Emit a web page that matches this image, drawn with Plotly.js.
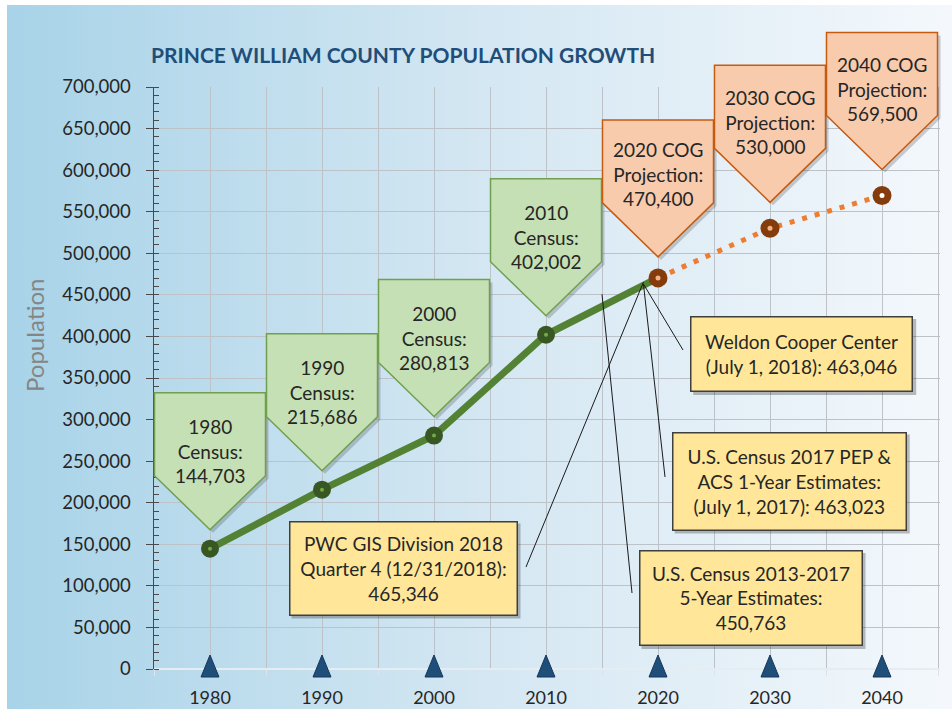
<!DOCTYPE html>
<html>
<head>
<meta charset="utf-8">
<script src="https://cdn.plot.ly/plotly-3.0.1.min.js"></script>
<style>
  html, body { margin: 0; padding: 0; background: #ffffff; }
  #wrap { position: relative; width: 952px; height: 710px; }
  #bg { position: absolute; left: 7px; top: 5px; width: 945px; height: 704px;
        background: linear-gradient(to right, #a8d3e8 0%, #d2e6f2 48%, #f4f8fc 100%); }
  #chart { position: absolute; left: 0; top: 0; width: 952px; height: 710px; }
</style>
</head>
<body>
<div id="wrap"><div id="bg"></div><div id="chart"></div></div>
<script>
// ---- data ----
const censusYears = [1980, 1990, 2000, 2010];
const censusPop = [144703, 215686, 280813, 402002];
const projYears = [2020, 2030, 2040];
const projPop = [470400, 530000, 569500];
const decadeTicks = [1980, 1990, 2000, 2010, 2020, 2030, 2040];
const estSources = ['PWC GIS Division 2018<br>Quarter 4 (12/31/2018):',
                    'Weldon Cooper Center<br>(July 1, 2018):',
                    'U.S. Census 2017 PEP &<br>ACS 1-Year Estimates:<br>(July 1, 2017):',
                    'U.S. Census 2013-2017<br>5-Year Estimates:'];
const estValues = [465346, 463046, 463023, 450763];
const estYears = [2018.7, 2018.7, 2018.7, 2015];

// ---- layout geometry ----
const L = 154, R = 12, T = 87, B = 41, PW = 952 - L - R, PH = 710 - T - B;
const X0 = 1975, PXPERYEAR = 11.2;
const xRange = [X0, X0 + PW / PXPERYEAR];
const yRange = [0, 700000];
const px2x = p => X0 + (p - L) / PXPERYEAR;
const py2y = p => (T + PH - p) / PH * yRange[1];
const pxX = p => (p - L) / PW;
const pxY = p => (T + PH - p) / PH;
const dX = v => (v - xRange[0]) / (xRange[1] - xRange[0]);
const dY = v => (v - yRange[0]) / (yRange[1] - yRange[0]);
const fmt = v => v.toLocaleString('en-US');
const FONT = 'Lato, "Open Sans", sans-serif';
const TXT = '#262626';

const shapes = [];
const annotations = [];

// callouts
function callout(x, y, tip, fill, line) {
  const hw = 55.5, sh = tip + 54, top = tip + 137;
  const p = (dx, dy) => `M${dx},${tip+dy} L${hw+dx},${sh+dy} L${hw+dx},${top+dy} L${-hw+dx},${top+dy} L${-hw+dx},${sh+dy} Z`;
  const base = {type: 'path', xref: 'paper', yref: 'paper', xsizemode: 'pixel', ysizemode: 'pixel',
                xanchor: dX(x), yanchor: dY(y), layer: 'above'};
  shapes.push(Object.assign({}, base, {path: p(3, -3), fillcolor: 'rgba(40,40,40,0.22)', line: {width: 0}}));
  shapes.push(Object.assign({}, base, {path: p(0, 0), fillcolor: fill, line: {color: line, width: 1.5}}));
}
censusYears.forEach((yr, i) => {
  callout(yr, censusPop[i], 19, '#c5e0b4', '#6f9f4f');
  annotations.push({x: yr, y: censusPop[i], xref: 'x', yref: 'y', showarrow: false, yshift: 98,
    text: `${yr}<br>Census:<br>${fmt(censusPop[i])}`, font: {family: FONT, size: 19, color: TXT}});
});
const projTip = [21, 26, 26], projText = [104, 106, 107];
projYears.forEach((yr, i) => {
  callout(yr, projPop[i], projTip[i], '#f8cbad', '#c55a11');
  annotations.push({x: yr, y: projPop[i], xref: 'x', yref: 'y', showarrow: false, yshift: projText[i],
    text: `${yr} COG<br>Projection:<br>${fmt(projPop[i])}`, font: {family: FONT, size: 19, color: TXT}});
});

// triangles on the x axis
decadeTicks.forEach(yr => {
  shapes.push({type: 'path', xref: 'paper', yref: 'paper', xsizemode: 'pixel', ysizemode: 'pixel',
    xanchor: dX(yr), yanchor: 0, layer: 'above', path: 'M-9,-8 L9,-8 L0,14 Z',
    fillcolor: '#1f4e79', line: {color: '#17375e', width: 1}});
});

// estimate boxes
const boxes = [
  {cx: 403, cy: 568, w: 229, h: 95, sep: '<br>', lx: 526, ly: 567},
  {cx: 801.7, cy: 354, w: 223, h: 76, sep: ' ', lx: 683, ly: 350},
  {cx: 789.2, cy: 481, w: 235, h: 99, sep: ' ', lx: 665, ly: 477},
  {cx: 750.5, cy: 598, w: 224, h: 96, sep: '<br>', lx: 632, ly: 593}
];
boxes.forEach((b, i) => {
  shapes.push({type: 'line', xref: 'x', yref: 'y', x0: estYears[i], y0: estValues[i],
    x1: px2x(b.lx), y1: py2y(b.ly), line: {color: '#1a1a1a', width: 1}, layer: 'above'});
  shapes.push({type: 'rect', xref: 'paper', yref: 'paper',
    x0: pxX(b.cx - b.w / 2 + 3), x1: pxX(b.cx + b.w / 2 + 3),
    y0: pxY(b.cy + b.h / 2 + 3), y1: pxY(b.cy - b.h / 2 + 3),
    fillcolor: 'rgba(40,40,40,0.3)', line: {width: 0}, layer: 'above'});
  annotations.push({xref: 'paper', yref: 'paper', x: pxX(b.cx), y: pxY(b.cy),
    xanchor: 'center', yanchor: 'middle', showarrow: false,
    text: estSources[i] + b.sep + fmt(estValues[i]),
    width: b.w - 5, height: b.h - 5, borderpad: 1, borderwidth: 1.5,
    bgcolor: '#ffe699', bordercolor: '#3f3f3f',
    font: {family: FONT, size: 19, color: TXT}});
});

// y axis title (placed off-centre as in the original)
annotations.push({xref: 'paper', yref: 'paper', x: pxX(34), y: pxY(336), xanchor: 'center', yanchor: 'middle',
  showarrow: false, textangle: -90, text: 'Population', font: {family: FONT, size: 24, color: '#858585'}});

const traces = [
  {x: censusYears.concat([projYears[0]]), y: censusPop.concat([projPop[0]]), type: 'scatter', mode: 'lines',
   line: {color: '#548235', width: 7}, hoverinfo: 'skip'},
  {x: projYears, y: projPop, type: 'scatter', mode: 'lines',
   line: {color: '#ed7d31', width: 5, dash: '5px,8px'}, hoverinfo: 'skip'},
  {x: censusYears, y: censusPop, type: 'scatter', mode: 'markers',
   marker: {size: 18, color: '#385723'}, hoverinfo: 'skip'},
  {x: censusYears, y: censusPop, type: 'scatter', mode: 'markers',
   marker: {size: 4, color: '#70ad47'}, hoverinfo: 'skip'},
  {x: projYears, y: projPop, type: 'scatter', mode: 'markers',
   marker: {size: 19, color: '#843c0c'}, hoverinfo: 'skip'},
  {x: projYears, y: projPop, type: 'scatter', mode: 'markers',
   marker: {size: 5, color: ['#f4b183', '#f4b183', '#ffffff']}, hoverinfo: 'skip'}
];

const layout = {
  width: 952, height: 710,
  margin: {l: L, r: R, t: T, b: B},
  paper_bgcolor: 'rgba(0,0,0,0)', plot_bgcolor: 'rgba(0,0,0,0)',
  showlegend: false,
  font: {family: FONT, color: TXT},
  title: {text: 'PRINCE WILLIAM COUNTY POPULATION GROWTH',
    font: {family: FONT, size: 21, color: '#1f4e79', weight: 'bold'},
    xref: 'container', yref: 'container', x: 151 / 952, xanchor: 'left', y: 1 - 55.5 / 710, yanchor: 'middle'},
  xaxis: {range: xRange, tick0: 1980, dtick: 10, showgrid: true, gridcolor: '#bcc2c8', gridwidth: 1,
    zeroline: false, showline: false, ticks: 'outside', ticklen: 6, tickcolor: '#dde3e8',
    ticklabelstandoff: 6, tickfont: {family: FONT, size: 18, color: TXT},
    minor: {tick0: 1975, dtick: 5, showgrid: true, gridcolor: '#bcc2c8', gridwidth: 1,
            ticks: 'outside', ticklen: 6, tickcolor: '#dde3e8'},
    fixedrange: true},
  yaxis: {range: yRange, dtick: 50000, tickformat: ',d', showgrid: true, gridcolor: '#bcc2c8', gridwidth: 1,
    zeroline: true, zerolinecolor: '#e6edf2', zerolinewidth: 1.5,
    showline: true, linecolor: '#4a4a4a', linewidth: 1.5,
    ticks: 'outside', ticklen: 7, tickcolor: '#4a4a4a', ticklabelstandoff: 11,
    tickfont: {family: FONT, size: 18.5, color: TXT},
    minor: {dtick: 10000, ticks: 'inside', ticklen: 5, tickcolor: '#4a4a4a', showgrid: false},
    fixedrange: true},
  shapes: shapes,
  annotations: annotations
};

Plotly.newPlot('chart', traces, layout, {displayModeBar: false, staticPlot: true});
</script>
</body>
</html>
